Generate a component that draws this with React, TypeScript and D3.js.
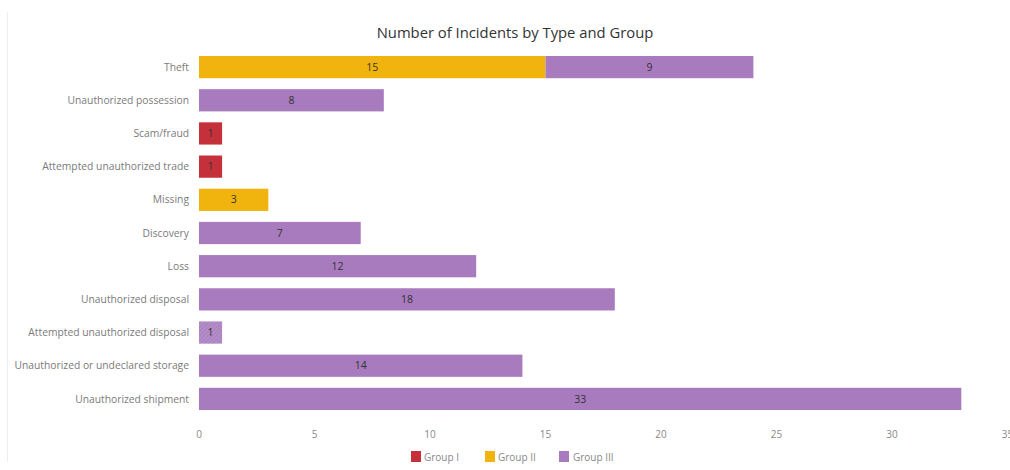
import React from "react";
import * as d3 from "d3";

const categories = [
  "Theft",
  "Unauthorized possession",
  "Scam/fraud",
  "Attempted unauthorized trade",
  "Missing",
  "Discovery",
  "Loss",
  "Unauthorized disposal",
  "Attempted unauthorized disposal",
  "Unauthorized or undeclared storage",
  "Unauthorized shipment",
];
const groups = ["Group I", "Group II", "Group III"];
const groupI = [0, 0, 1, 1, 0, 0, 0, 0, 0, 0, 0];
const groupII = [15, 0, 0, 0, 3, 0, 0, 0, 0, 0, 0];
const groupIII = [9, 8, 0, 0, 0, 7, 12, 18, 1, 14, 33];
const hatched = ["Attempted unauthorized disposal"];
const xTicks = [0, 5, 10, 15, 20, 25, 30, 35];
const colors = ["#C4313A", "#F1B40E", "#A87BBE"];

const W = 1010;
const H = 470;
const FONT = "'Open Sans', 'Noto Sans', sans-serif";

export default function App() {
  const x = d3.scaleLinear().domain([0, 35]).range([199, 1007.5]);
  const y = d3.scaleBand().domain(categories).range([50.5, 415.5]).paddingInner(0.33).paddingOuter(0.165);
  const series = [groupI, groupII, groupIII];
  const rows = categories.map((c, i) => ({ "0": series[0][i], "1": series[1][i], "2": series[2][i], c }));
  const stack = d3.stack<any>().keys(["0", "1", "2"])(rows);

  const legendItems = [
    { label: groups[0], sx: 411, tx: 424 },
    { label: groups[1], sx: 485, tx: 498 },
    { label: groups[2], sx: 559, tx: 573 },
  ];

  return (
    <div style={{ position: "absolute", left: 0, top: 0 }}>
      <svg width={W} height={H} style={{ display: "block", background: "#fff" }}>
        <defs>
          <pattern id="hatch" patternUnits="userSpaceOnUse" width="3" height="3" patternTransform="rotate(45)">
            <rect width="3" height="3" fill="#B38DC8" />
            <line x1="0" y1="0" x2="0" y2="3" stroke="#A57CBB" strokeWidth="1.5" />
          </pattern>
        </defs>
        <line x1={7.5} x2={7.5} y1={12} y2={462} stroke="#eeeeee" strokeWidth={1} />
        <text x={515} y={38} textAnchor="middle" fontFamily={FONT} fontSize={14.8} fill="#333">
          Number of Incidents by Type and Group
        </text>
        {categories.map((c) => (
          <text key={c} x={189} y={(y(c) as number) + y.bandwidth() / 2} dy="0.35em" textAnchor="end" fontFamily={FONT} fontSize={10.3} fill="#7a7a7a">
            {c}
          </text>
        ))}
        {stack.map((layer, gi) =>
          layer.map((d, i) => {
            const v = d[1] - d[0];
            if (v <= 0) return null;
            const cat = categories[i];
            const x0 = x(d[0]);
            const x1 = x(d[1]);
            const yy = y(cat) as number;
            const fill = hatched.includes(cat) && gi === 2 ? "url(#hatch)" : colors[gi];
            return (
              <g key={`${gi}-${i}`}>
                <rect x={x0} y={yy} width={x1 - x0} height={y.bandwidth()} fill={fill} />
                <text x={(x0 + x1) / 2} y={yy + y.bandwidth() / 2} dy="0.35em" textAnchor="middle" fontFamily={FONT} fontSize={10.5} fill="#333">
                  {v}
                </text>
              </g>
            );
          })
        )}
        {xTicks.map((t) => (
          <text key={t} x={x(t)} y={434} dy="0.35em" textAnchor="middle" fontFamily={FONT} fontSize={10} fill="#888">
            {t}
          </text>
        ))}
        {legendItems.map((l, i) => (
          <g key={l.label}>
            <rect x={l.sx} y={451} width={10} height={11} fill={colors[i]} />
            <text x={l.tx} y={457} dy="0.35em" fontFamily={FONT} fontSize={10} fill="#888">
              {l.label}
            </text>
          </g>
        ))}
      </svg>
    </div>
  );
}
